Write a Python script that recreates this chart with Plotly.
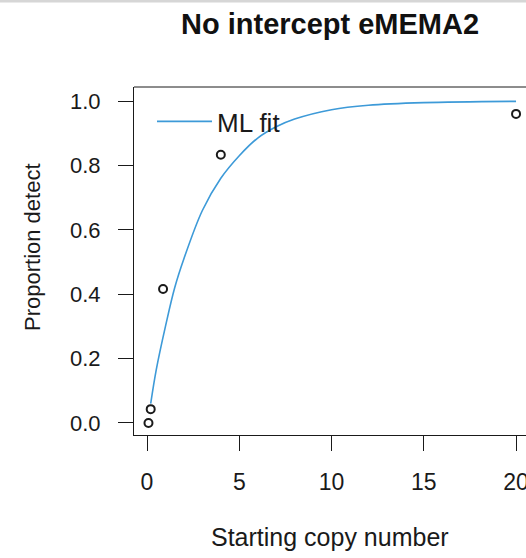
import plotly.graph_objects as go

# Observed data (proportion detected at each starting copy number)
copy_number = [0.08, 0.2, 0.87, 4.0, 20.0]
prop_detect = [0.0, 0.043, 0.416, 0.833, 0.96]

# ML fit curve
fit_x = [0.2, 0.5, 1.0, 1.5, 2.0, 3.0, 4.0, 5.0, 6.0, 7.0, 8.0, 10.0, 12.0, 15.0, 20.0]
fit_y = [0.06, 0.165, 0.30, 0.42, 0.51, 0.66, 0.76, 0.83, 0.885, 0.92, 0.944, 0.973, 0.987, 0.995, 0.999]

x_ticks = [0, 5, 10, 15, 20]
y_ticks = [0.0, 0.2, 0.4, 0.6, 0.8, 1.0]

W, H = 526, 558
L, T, B = 134, 87, 435
pw, ph = W - L, B - T

FONT = "Liberation Sans, Arial, sans-serif"
INK = "#1a1a1a"

def px(xp):
    return (xp - L) / pw

def py(yp):
    return (B - yp) / ph

fig = go.Figure()
fig.add_trace(go.Scatter(
    x=fit_x, y=fit_y, mode="lines", name="ML fit",
    line=dict(color="#3d9ad8", width=1.6, shape="spline"),
))
fig.add_trace(go.Scatter(
    x=copy_number, y=prop_detect, mode="markers", showlegend=False,
    marker=dict(symbol="circle-open", size=8, color=INK, line=dict(width=2, color=INK)),
))

fig.update_layout(
    width=W, height=H,
    margin=dict(l=L, r=0, t=T, b=H - B, autoexpand=False),
    paper_bgcolor="white", plot_bgcolor="white",
    font=dict(family=FONT, size=22, color=INK),
    showlegend=True,
    legend=dict(x=px(152), y=py(98), xanchor="left", yanchor="top",
                bgcolor="rgba(0,0,0,0)", font=dict(size=26, color=INK),
                itemwidth=55),
    xaxis=dict(range=[-0.705, 20.54], tickvals=x_ticks, ticktext=[str(v) for v in x_ticks],
               showgrid=False, zeroline=False, showline=True, linecolor=INK, linewidth=1,
               ticks="outside", ticklen=15, tickcolor=INK, tickwidth=1,
               tickfont=dict(size=23, color=INK), ticklabelstandoff=11,
               ticklabeloverflow="allow", automargin=False),
    yaxis=dict(range=[-0.0373, 1.0435], tickvals=y_ticks, ticktext=[f"{v:.1f}" for v in y_ticks],
               showgrid=False, zeroline=False, showline=True, linecolor=INK, linewidth=1,
               ticks="outside", ticklen=15, tickcolor=INK, tickwidth=1,
               tickfont=dict(size=22, color=INK), ticklabelstandoff=13, automargin=False),
    shapes=[
        dict(type="line", xref="paper", yref="paper", x0=0, x1=1, y0=1, y1=1,
             line=dict(color=INK, width=1)),
        dict(type="rect", xref="paper", yref="paper", x0=px(0), x1=px(W),
             y0=py(2.5), y1=py(0), fillcolor="#d6d6d6", line=dict(width=0), layer="above"),
    ],
    annotations=[
        dict(text="<b>No intercept eMEMA2</b>", xref="paper", yref="paper",
             x=px(330), y=py(24), xanchor="center", yanchor="middle", showarrow=False,
             font=dict(size=29, color="#111111")),
        dict(text="Proportion detect", xref="paper", yref="paper",
             x=px(32), y=py(247), xanchor="center", yanchor="middle", showarrow=False,
             textangle=-90, font=dict(size=22, color=INK)),
        dict(text="Starting copy number", xref="paper", yref="paper",
             x=px(330), y=py(537), xanchor="center", yanchor="middle", showarrow=False,
             font=dict(size=25, color=INK)),
    ],
)

fig.write_html("out.html")
